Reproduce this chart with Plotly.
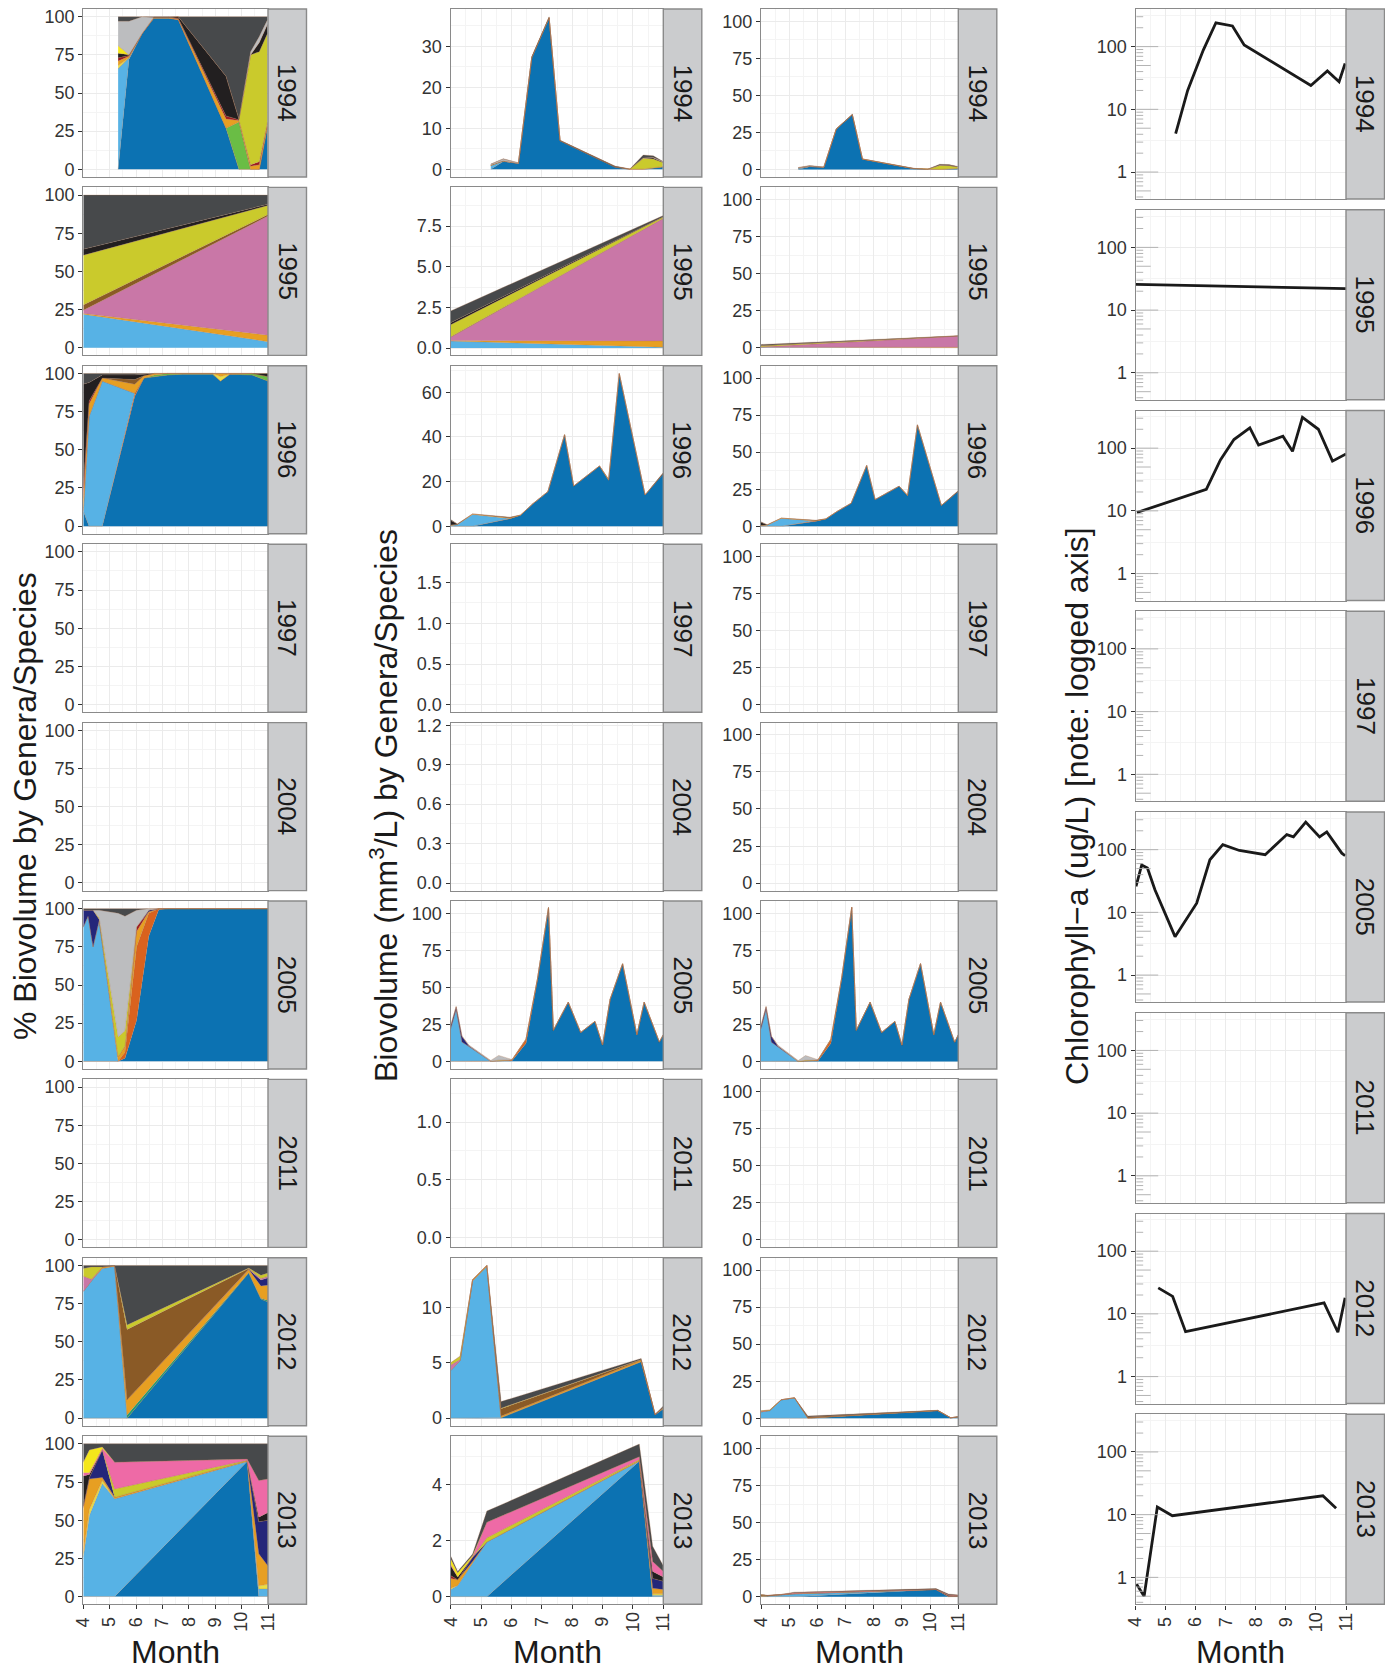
import numpy as np
import plotly.graph_objects as go

# ======================= DATA =======================
# taxa stacked from bottom to top (names unknown in the source figure)
taxa = ["T01", "T02", "T03", "T04", "T05", "T06", "T07", "T08", "T09",
        "T10", "T11", "T12", "T13", "T14", "T15", "T16", "T17"]
taxon_colors = ["#0C72B2", "#D9621E", "#57B2E5", "#1B9E77", "#6ABD45", "#E9DE45",
                "#E79F22", "#9C1C22", "#24267A", "#C977A7", "#8A5A26", "#CACA2C",
                "#221F20", "#EE6AA6", "#F4E71B", "#BCBDBF", "#47494B"]

years_phyto = [1994, 1995, 1996, 1997, 2004, 2005, 2011, 2012, 2013]
years_chl = [1994, 1995, 1996, 1997, 2005, 2011, 2012, 2013]

# ---- 1994 ----
dates_1994 = [5.32, 5.73, 6.23, 6.67, 7.24, 7.60, 9.41, 9.90, 10.34, 10.67, 10.98]
pct_1994 = {
    "T01": [0, 72, 89, 99, 99, 98, 27, 0, 0, 0, 28],
    "T03": [66, 1, 0, 0, 0, 0, 0, 0, 0, 0, 0],
    "T05": [0, 0, 0, 0, 0, 0, 0, 31, 0, 0, 0],
    "T06": [2, 0, 0, 0, 0, 0, 0, 0, 0, 0, 0],
    "T07": [3, 1, 0, 0.5, 0.5, 0.5, 6, 1, 2, 3, 2],
    "T08": [2, 0.5, 0, 0, 0, 0.5, 2, 0.5, 1, 2, 1],
    "T12": [0, 0, 0, 0, 0, 0, 0, 0, 72, 72, 58],
    "T13": [3, 0.5, 0, 0, 0, 1, 26, 0.5, 0, 6, 6],
    "T15": [5, 0, 0, 0, 0, 0, 0, 0, 0, 0, 0],
    "T16": [16, 22, 11, 0, 0, 0, 0, 0, 2, 4, 3],
    "T17": [3, 3, 0, 0.5, 0.5, 0, 39, 67, 23, 13, 2],
}
bio_1994 = {
    "T01": [0.05, 1.9, 1.45, 27.2, 36.9, 6.95, 0.55, 0, 0, 0.3, 0.6],
    "T03": [0.85, 0.1, 0, 0, 0, 0, 0, 0, 0, 0, 0],
    "T05": [0, 0, 0, 0, 0, 0, 0, 0.05, 0, 0, 0],
    "T07": [0.1, 0.05, 0, 0.1, 0.1, 0.05, 0.05, 0.02, 0.1, 0.2, 0.1],
    "T12": [0, 0, 0, 0, 0, 0, 0, 0, 2.6, 2.0, 1.0],
    "T13": [0.05, 0.05, 0, 0, 0, 0.05, 0.1, 0, 0, 0.3, 0.1],
    "T16": [0.2, 0.4, 0.15, 0, 0, 0, 0, 0, 0.1, 0.1, 0.1],
    "T17": [0.05, 0.1, 0, 0.2, 0.2, 0.05, 0.1, 0.03, 0.7, 0.4, 0.1],
}

# ---- 1995 ----
dates_1995 = [4.0, 11.0]
pct_1995 = {
    "T03": [22, 4], "T07": [0.5, 4.2], "T10": [2, 78], "T11": [3.5, 1],
    "T12": [32.5, 6], "T13": [4, 0.8], "T17": [35.5, 6],
}
bio_1995 = {
    "T03": [0.43, 0.05], "T07": [0.03, 0.38], "T10": [0.2, 7.54], "T11": [0.03, 0.01],
    "T12": [0.75, 0.08], "T13": [0.12, 0.02], "T17": [0.72, 0.07],
}

# ---- 1996 ----
dates_1996 = [4.00, 4.22, 4.72, 5.95, 6.30, 6.70, 7.20, 7.75, 8.05, 8.90, 9.20, 9.55, 10.40, 11.00]
pct_1996 = {
    "T01": [10, 0, 0, 85, 97, 98, 99, 99.5, 99.5, 99.5, 95, 99.5, 99, 95],
    "T02": [0, 0, 0, 2, 0, 0, 0, 0, 0, 0, 0, 0, 0, 0],
    "T03": [0, 72, 95, 0, 0, 0, 0, 0, 0, 0, 0, 0, 0, 0],
    "T05": [0, 0, 0, 0, 0, 1, 1, 0.5, 0.5, 0.5, 0, 0, 1, 3],
    "T06": [0, 0, 0, 0, 0, 0, 0, 0, 0, 0, 3, 0, 0, 0],
    "T07": [8, 8, 2, 6, 1.5, 1, 0, 0, 0, 0, 2, 0.5, 0, 0],
    "T08": [8, 2, 0, 0, 0, 0, 0, 0, 0, 0, 0, 0, 0, 0],
    "T11": [0, 0, 0, 3, 0, 0, 0, 0, 0, 0, 0, 0, 0, 0],
    "T13": [67, 12, 2, 3, 1, 0, 0, 0, 0, 0, 0, 0, 0, 2],
    "T17": [7, 6, 1, 1, 0.5, 0, 0, 0, 0, 0, 0, 0, 0, 0],
}
bio_1996 = {
    "T01": [0.3, 0, 0, 3.4, 4.9, 10, 15.5, 41, 18, 27, 20.6, 68.3, 14, 23.6],
    "T02": [0, 0, 0, 0.1, 0, 0, 0, 0, 0, 0, 0, 0, 0, 0],
    "T03": [0, 0.7, 5.3, 0, 0, 0, 0, 0, 0, 0, 0, 0, 0, 0],
    "T07": [0.3, 0.1, 0.2, 0.3, 0.1, 0, 0, 0, 0, 0, 0.4, 0.2, 0, 0],
    "T13": [2.0, 0.2, 0, 0.2, 0, 0, 0, 0, 0, 0, 0, 0, 0, 0.4],
    "T17": [0.4, 0, 0, 0, 0, 0, 0, 0, 0, 0, 0, 0, 0, 0],
}

# ---- 2005 ----
dates_2005 = [4.00, 4.18, 4.37, 4.60, 5.32, 5.58, 6.02, 6.48, 6.86, 7.22, 7.38,
              7.87, 8.28, 8.75, 9.00, 9.25, 9.66, 10.13, 10.37, 10.87, 11.00]
pct_2005 = {
    "T01": [0, 0, 0, 0, 0, 2, 27, 82, 99.5, 100, 100, 100, 100, 100, 100, 100, 100, 100, 100, 100, 100],
    "T02": [0, 0, 0, 0, 0, 4, 48, 15, 0.5, 0, 0, 0, 0, 0, 0, 0, 0, 0, 0, 0, 0],
    "T03": [88, 95, 75, 92, 0, 0, 0, 0, 0, 0, 0, 0, 0, 0, 0, 0, 0, 0, 0, 0, 0],
    "T07": [0, 0, 0, 0, 3, 4, 10, 1, 0, 0, 0, 0, 0, 0, 0, 0, 0, 0, 0, 0, 0],
    "T08": [0, 0, 0, 0, 0, 0, 3, 0, 0, 0, 0, 0, 0, 0, 0, 0, 0, 0, 0, 0, 0],
    "T09": [11, 4, 24, 1, 0, 0, 0, 1, 0, 0, 0, 0, 0, 0, 0, 0, 0, 0, 0, 0, 0],
    "T12": [0, 0, 0, 1, 13, 10, 0, 0, 0, 0, 0, 0, 0, 0, 0, 0, 0, 0, 0, 0, 0],
    "T16": [0, 0, 0, 5, 81, 75, 11, 1, 0, 0, 0, 0, 0, 0, 0, 0, 0, 0, 0, 0, 0],
    "T17": [1, 1, 1, 1, 3, 5, 1, 0, 0, 0, 0, 0, 0, 0, 0, 0, 0, 0, 0, 0, 0],
}
bio_2005 = {
    "T01": [0, 0, 0, 0, 0, 0.1, 0.3, 12.3, 55.7, 104, 21, 40, 19.5, 27, 11, 42, 66, 18, 40, 13, 18],
    "T02": [0, 0, 0, 0, 0, 0.2, 0.6, 2.4, 0.3, 0, 0, 0, 0, 0, 0, 0, 0, 0, 0, 0, 0],
    "T03": [22, 35, 13, 10, 0, 0, 0, 0, 0, 0, 0, 0, 0, 0, 0, 0, 0, 0, 0, 0, 0],
    "T07": [0, 0, 0, 0, 0, 0.2, 0.1, 0.3, 0, 0, 0, 0, 0, 0, 0, 0, 0, 0, 0, 0, 0],
    "T09": [2, 2, 4, 0.5, 0, 0, 0, 0, 0, 0, 0, 0, 0, 0, 0, 0, 0, 0, 0, 0, 0],
    "T12": [0, 0, 0, 0, 0.1, 0.3, 0, 0, 0, 0, 0, 0, 0, 0, 0, 0, 0, 0, 0, 0, 0],
    "T16": [0, 0, 0, 0.5, 0.5, 3.2, 0.2, 0, 0, 0, 0, 0, 0, 0, 0, 0, 0, 0, 0, 0, 0],
}

# ---- 2012 ----
dates_2012 = [4.00, 4.31, 4.72, 5.19, 5.66, 10.27, 10.73, 11.00]
pct_2012 = {
    "T01": [0, 0, 0, 0, 0, 95, 78, 76],
    "T03": [83, 90, 98, 99.5, 0, 0, 0, 0],
    "T04": [0, 0, 0, 0, 2, 0.3, 0.5, 1],
    "T07": [0, 0, 1, 0.3, 10, 2, 8, 10],
    "T09": [0, 0, 0, 0, 0, 0, 4, 5],
    "T10": [10, 1, 0, 0, 0, 0.2, 1, 1],
    "T11": [0, 0, 0, 0, 46, 0.5, 0, 0],
    "T12": [5, 8, 0, 0, 3, 0.3, 2, 2],
    "T17": [2, 1, 1, 0.2, 39, 1.7, 6.5, 5],
}
bio_2012 = {
    "T01": [0, 0, 0, 0, 0.03, 5.1, 0.3, 0.85],
    "T03": [4.3, 5.2, 12.4, 13.7, 0, 0, 0, 0],
    "T04": [0, 0, 0, 0, 0.03, 0, 0, 0],
    "T07": [0, 0, 0.1, 0.1, 0.14, 0.15, 0.03, 0.1],
    "T09": [0, 0, 0, 0, 0, 0, 0, 0.05],
    "T10": [0.5, 0.1, 0, 0, 0, 0, 0, 0],
    "T11": [0, 0, 0, 0, 0.65, 0.03, 0, 0],
    "T12": [0.2, 0.3, 0, 0, 0.05, 0.02, 0, 0],
    "T17": [0, 0, 0, 0, 0.6, 0.1, 0.02, 0.1],
}

# ---- 2013 ----
dates_2013 = [4.00, 4.23, 4.72, 5.19, 10.21, 10.65, 11.00]
pct_2013 = {
    "T01": [0, 0, 0, 0, 88.5, 0, 0],
    "T03": [26, 53, 74, 64, 0, 5, 5],
    "T06": [2, 4, 2, 0, 0, 2, 3],
    "T07": [30, 20, 2, 1, 0.5, 21, 12],
    "T08": [1, 0, 0, 0, 0, 0, 0],
    "T09": [0, 1, 18, 0, 0, 21, 30],
    "T12": [0, 0, 0, 5.5, 0.3, 0, 0],
    "T13": [20, 2, 0, 0, 0, 3, 5],
    "T14": [2, 1, 1, 17.5, 0.7, 24, 22],
    "T15": [7, 15, 1, 0, 0, 0, 0],
    "T17": [12, 4, 2, 12, 10, 24, 23],
}
bio_2013 = {
    "T01": [0, 0, 0, 0, 4.83, 0, 0],
    "T03": [0.25, 0.4, 1.2, 1.95, 0, 0.05, 0.05],
    "T06": [0.05, 0, 0, 0, 0, 0.05, 0.05],
    "T07": [0.35, 0.2, 0.05, 0, 0.02, 0.2, 0.15],
    "T08": [0.1, 0, 0, 0, 0, 0, 0],
    "T09": [0, 0, 0.15, 0, 0, 0.35, 0.3],
    "T12": [0, 0, 0, 0.15, 0.04, 0, 0],
    "T13": [0.35, 0.1, 0, 0, 0, 0.25, 0.15],
    "T14": [0.05, 0, 0.02, 0.55, 0.1, 0.35, 0.2],
    "T15": [0.2, 0.15, 0.05, 0, 0, 0, 0],
    "T17": [0.1, 0.05, 0.05, 0.4, 0.45, 0.55, 0.2],
}

# ---- chlorophyll-a (ug/L) ----
chl_dates_1994 = [5.33, 5.73, 6.25, 6.67, 7.22, 7.61, 9.83, 10.38, 10.77, 10.97]
chl_1994 = [4.1, 20, 88, 240, 214, 106, 24, 41, 27.5, 54]
chl_dates_1995 = [4.0, 11.0]
chl_1995 = [25.8, 22]
chl_dates_1996 = [4.04, 6.35, 6.82, 7.27, 7.80, 8.09, 8.90, 9.22, 9.55, 10.08, 10.55, 11.0]
chl_1996 = [9.4, 22, 65, 137, 210, 112, 155, 89, 310, 200, 62, 81]
chl_dates_2005 = [4.01, 4.20, 4.39, 4.64, 5.31, 6.03, 6.47, 6.90, 7.45, 8.31, 9.03,
                  9.25, 9.66, 10.12, 10.36, 10.86, 10.97]
chl_2005 = [26, 57, 51, 23, 4.1, 14, 69, 120, 97, 83, 174, 160, 275, 160, 192, 88, 80]
chl_dates_2012 = [4.75, 5.23, 5.66, 10.27, 10.73, 10.97]
chl_2012 = [26, 19, 5.2, 15, 5.1, 18]
chl_dates_2013 = [4.03, 4.28, 4.72, 5.22, 10.23, 10.67]
chl_2013 = [0.78, 0.5, 13.2, 9.6, 20, 12.6]

# axis tick labels
month_ticks = [4, 5, 6, 7, 8, 9, 10, 11]
pct_ticks = [0, 25, 50, 75, 100]
bio_ticks = {
    1994: ([0, 10, 20, 30], ["0", "10", "20", "30"]),
    1995: ([0, 2.5, 5, 7.5], ["0.0", "2.5", "5.0", "7.5"]),
    1996: ([0, 20, 40, 60], ["0", "20", "40", "60"]),
    1997: ([0, 0.5, 1, 1.5], ["0.0", "0.5", "1.0", "1.5"]),
    2004: ([0, 0.3, 0.6, 0.9, 1.2], ["0.0", "0.3", "0.6", "0.9", "1.2"]),
    2005: ([0, 25, 50, 75, 100], ["0", "25", "50", "75", "100"]),
    2011: ([0, 0.5, 1], ["0.0", "0.5", "1.0"]),
    2012: ([0, 5, 10], ["0", "5", "10"]),
    2013: ([0, 2, 4], ["0", "2", "4"]),
}
bio_ranges = {1994: [-1.86, 39.1], 1995: [-0.45, 9.88], 1996: [-3.4, 71.9],
              1997: [-0.09, 1.97], 2004: [-0.057, 1.22], 2005: [-5.2, 108.5],
              2011: [-0.085, 1.37], 2012: [-0.69, 14.49], 2013: [-0.27, 5.72]}
chl_ticks = [1, 10, 100]

dates_by_year = {1994: dates_1994, 1995: dates_1995, 1996: dates_1996,
                 2005: dates_2005, 2012: dates_2012, 2013: dates_2013}
pct_by_year = {1994: pct_1994, 1995: pct_1995, 1996: pct_1996,
               2005: pct_2005, 2012: pct_2012, 2013: pct_2013}
bio_by_year = {1994: bio_1994, 1995: bio_1995, 1996: bio_1996,
               2005: bio_2005, 2012: bio_2012, 2013: bio_2013}
chl_by_year = {1994: (chl_dates_1994, chl_1994), 1995: (chl_dates_1995, chl_1995),
               1996: (chl_dates_1996, chl_1996), 2005: (chl_dates_2005, chl_2005),
               2012: (chl_dates_2012, chl_2012), 2013: (chl_dates_2013, chl_2013)}

# ======================= STYLE / GEOMETRY =======================
W, H = 1393, 1672
PAGE_OFF = 8.0   # the html page body has an 8px margin
FONT = "Liberation Sans, Arial, Helvetica, sans-serif"
GRID = "#EBEBEB"
GRID_MINOR = "#F4F4F4"
BORDER = "#8A8A8A"
STRIP_FILL = "#CBCCCE"
TICK_COL = "#333333"
TXT = "#333333"
OUTLINE = "rgba(175,115,80,0.55)"

col_x = {1: (83.3, 268.0), 2: (450.7, 663.3), 3: (761.0, 958.3), 4: (1135.7, 1346.0)}
STRIP_W = 38.5
ROW_TOP0, ROW_PITCH, ROW_H = 9.0, 178.4, 168.0
CROW_TOP0, CROW_PITCH, CROW_H = 9.0, 200.76, 190.0
CHL_RANGE = [-0.43, 2.60]


def fx(px):
    return (px - PAGE_OFF) / W


def fy(py):
    return 1 - (py - PAGE_OFF) / H


def ref(n, a):
    return a if n == 1 else f"{a}{n}"


def axname(n, a):
    return f"{a}axis" if n == 1 else f"{a}axis{n}"


def minor_between(ticks, rng):
    t = list(ticks)
    step = t[1] - t[0]
    out = []
    cands = [t[0] - step / 2] + [(a + b) / 2 for a, b in zip(t[:-1], t[1:])] + [t[-1] + step / 2]
    for c in cands:
        if rng[0] <= c <= rng[1]:
            out.append(c)
    return out


fig = go.Figure()
layout = {}
shapes = []
annotations = []
panel_no = [0]


def make_panel(col, top, height, bottom_row, yrange, yticks, yticktext, ylog=False):
    panel_no[0] += 1
    n = panel_no[0]
    L, R = col_x[col]
    B = top + height
    layout[axname(n, "x")] = dict(
        domain=[fx(L), fx(R)], anchor=ref(n, "y"), range=[4, 11], automargin=False,
        tickmode="array", tickvals=month_ticks, showticklabels=False,
        ticks="outside" if bottom_row else "", ticklen=4, tickwidth=1.3, tickcolor=TICK_COL,
        showgrid=True, gridcolor=GRID, gridwidth=1.1,
        minor=dict(tickmode="array", tickvals=[m + 0.5 for m in month_ticks[:-1]],
                   showgrid=True, gridcolor=GRID_MINOR, gridwidth=0.6),
        showline=True, mirror=True, linecolor=BORDER, linewidth=1.4,
        zeroline=False, fixedrange=True)
    if ylog:
        minor_vals = [10 ** v for v in minor_between([0, 1, 2], yrange)]
        ydict = dict(type="log", range=yrange)
    else:
        minor_vals = minor_between(yticks, yrange)
        ydict = dict(range=yrange)
    ydict.update(dict(
        domain=[fy(B), fy(top)], anchor=ref(n, "x"), automargin=False,
        tickmode="array", tickvals=yticks, ticktext=yticktext, ticklabeloverflow="allow",
        ticks="outside", ticklen=4, tickwidth=1.3, tickcolor=TICK_COL,
        tickfont=dict(family=FONT, size=18, color=TXT),
        showgrid=True, gridcolor=GRID, gridwidth=1.1,
        minor=dict(tickmode="array", tickvals=minor_vals, showgrid=True,
                   gridcolor=GRID_MINOR, gridwidth=0.6),
        showline=True, mirror=True, linecolor=BORDER, linewidth=1.4,
        zeroline=False, fixedrange=True))
    layout[axname(n, "y")] = ydict
    # invisible anchor trace so that every panel (also empty ones) is drawn
    yv = 1 if ylog else 0
    fig.add_trace(go.Scatter(x=[4, 11], y=[yv, yv], xaxis=ref(n, "x"), yaxis=ref(n, "y"),
                             mode="markers", marker=dict(size=1, opacity=0),
                             showlegend=False, hoverinfo="skip"))
    # strip
    shapes.append(dict(type="rect", xref="paper", yref="paper",
                       x0=fx(R), x1=fx(R + STRIP_W), y0=fy(B), y1=fy(top),
                       fillcolor=STRIP_FILL, line=dict(color=BORDER, width=1.4), layer="above"))
    # month tick labels for the bottom row
    if bottom_row:
        for m in month_ticks:
            annotations.append(dict(x=m, xref=ref(n, "x"), y=fy(B + 18), yref="paper",
                                    text=str(m), textangle=-90, showarrow=False,
                                    xanchor="center", yanchor="middle",
                                    font=dict(family=FONT, size=18, color=TXT)))
    return n, L, R, top, B


def strip_text(R, top, B, year):
    annotations.append(dict(x=fx(R + STRIP_W / 2), y=fy((top + B) / 2), xref="paper", yref="paper",
                            text=str(year), textangle=90, showarrow=False,
                            xanchor="center", yanchor="middle",
                            font=dict(family=FONT, size=26, color="#1A1A1A")))


def add_areas(n, dates, comp, norm):
    for code, color in zip(taxa, taxon_colors):
        if code not in comp:
            continue
        fig.add_trace(go.Scatter(
            x=dates, y=comp[code], xaxis=ref(n, "x"), yaxis=ref(n, "y"),
            mode="lines", stackgroup=f"g{n}", groupnorm="percent" if norm else "",
            fillcolor=color, line=dict(color=OUTLINE, width=0.5),
            showlegend=False, hoverinfo="skip", name=code))


# ---- columns 1-3 ----
for r, yr in enumerate(years_phyto):
    top = ROW_TOP0 + r * ROW_PITCH
    bottom = (r == len(years_phyto) - 1)
    # col 1: percent
    n, L, R, t, B = make_panel(1, top, ROW_H, bottom, [-5, 105], pct_ticks, [str(v) for v in pct_ticks])
    strip_text(R, t, B, yr)
    if yr in pct_by_year:
        add_areas(n, dates_by_year[yr], pct_by_year[yr], True)
    # col 2: biovolume, free scale
    tv, tt = bio_ticks[yr]
    n, L, R, t, B = make_panel(2, top, ROW_H, bottom, bio_ranges[yr], tv, tt)
    strip_text(R, t, B, yr)
    if yr in bio_by_year:
        add_areas(n, dates_by_year[yr], bio_by_year[yr], False)
    # col 3: biovolume, fixed scale
    n, L, R, t, B = make_panel(3, top, ROW_H, bottom, [-5.1, 108.3], pct_ticks, [str(v) for v in pct_ticks])
    strip_text(R, t, B, yr)
    if yr in bio_by_year:
        add_areas(n, dates_by_year[yr], bio_by_year[yr], False)

# ---- column 4: chlorophyll (log axis) ----
for r, yr in enumerate(years_chl):
    top = CROW_TOP0 + r * CROW_PITCH
    bottom = (r == len(years_chl) - 1)
    n, L, R, t, B = make_panel(4, top, CROW_H, bottom, CHL_RANGE, chl_ticks, ["1", "10", "100"], ylog=True)
    strip_text(R, t, B, yr)
    # log ticks annotation (left side)
    for dec in [-1, 0, 1, 2]:
        for k in range(1, 10):
            v = k * 10.0 ** dec
            lv = np.log10(v)
            if not (CHL_RANGE[0] < lv < CHL_RANGE[1]):
                continue
            ln = 22.5 if k == 1 else (15 if k == 5 else 7.5)
            py = t + (CHL_RANGE[1] - lv) / (CHL_RANGE[1] - CHL_RANGE[0]) * CROW_H
            shapes.append(dict(type="line", xref="paper", yref="paper",
                               x0=fx(L + 0.7), x1=fx(L + ln), y0=fy(py), y1=fy(py),
                               line=dict(color="#ABABAB", width=0.9), layer="above"))
    if yr in chl_by_year:
        d, v = chl_by_year[yr]
        fig.add_trace(go.Scatter(x=d, y=v, xaxis=ref(n, "x"), yaxis=ref(n, "y"),
                                 mode="lines", line=dict(color="#1A1A1A", width=2.8),
                                 showlegend=False, hoverinfo="skip", cliponaxis=True))

# ---- axis titles ----
TITLE_FONT = dict(family=FONT, size=32, color="#1A1A1A")
annotations.append(dict(x=fx(25), y=fy(806), xref="paper", yref="paper",
                        text="% Biovolume by Genera/Species", textangle=-90, borderpad=0,
                        showarrow=False, xanchor="center", yanchor="middle", font=TITLE_FONT))
annotations.append(dict(x=fx(384), y=fy(806), xref="paper", yref="paper",
                        text="Biovolume (mm<sup>3</sup>/L) by Genera/Species", textangle=-90,
                        showarrow=False, xanchor="center", yanchor="middle", font=TITLE_FONT))
annotations.append(dict(x=fx(1077), y=fy(806), xref="paper", yref="paper",
                        text="Chlorophyll\u2212a (ug/L) [note: logged axis]", textangle=-90,
                        showarrow=False, xanchor="center", yanchor="middle", font=TITLE_FONT))
for c in [1, 2, 3, 4]:
    L, R = col_x[c]
    annotations.append(dict(x=fx((L + R) / 2), y=fy(1652), xref="paper", yref="paper",
                            text="Month", showarrow=False, xanchor="center", yanchor="middle",
                            font=TITLE_FONT))

fig.update_layout(**layout)
fig.update_layout(
    width=W, height=H, margin=dict(l=0, r=0, t=0, b=0, autoexpand=False),
    paper_bgcolor="white", plot_bgcolor="white",
    shapes=shapes, annotations=annotations, showlegend=False,
    font=dict(family=FONT, color=TXT),
)
fig.write_html("out.html")
